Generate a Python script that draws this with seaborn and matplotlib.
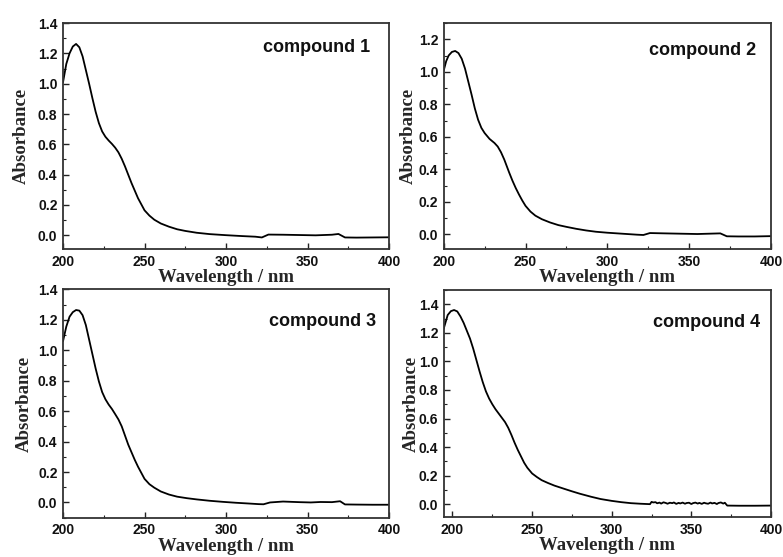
"""
UV-Vis absorption spectra of compounds 1-4 (2x2 panel figure).
"""

import matplotlib
matplotlib.use('Agg')
import matplotlib.pyplot as plt
from matplotlib.ticker import MultipleLocator, FormatStrFormatter
import seaborn as sns
import pandas as pd

# --- spectra (wavelength in nm, absorbance) ---
wl_c1 = [200, 202, 204, 206, 208, 210, 212, 214, 216, 218, 220, 222, 224, 226,
         228, 230, 232, 234, 236, 238, 240, 242, 244, 246, 248, 250, 253, 256,
         260, 265, 270, 275, 282, 290, 300, 310, 318, 322, 326, 335, 345, 355,
         365, 369, 373, 380, 390, 400]
abs_c1 = [1.01, 1.13, 1.20, 1.245, 1.262, 1.24, 1.18, 1.09, 1.00, 0.905, 0.815,
          0.74, 0.685, 0.65, 0.625, 0.603, 0.578, 0.547, 0.505, 0.455, 0.40,
          0.345, 0.295, 0.245, 0.205, 0.165, 0.13, 0.103, 0.078, 0.057, 0.040,
          0.029, 0.017, 0.008, 0.001, -0.005, -0.009, -0.014, 0.005, 0.004,
          0.002, 0.0, 0.004, 0.009, -0.014, -0.015, -0.014, -0.013]

wl_c2 = [200, 201.5, 203, 205, 207, 209, 211, 213, 215, 217, 219, 221, 223,
         225, 228, 231, 233, 235, 237, 240, 242, 244, 246, 248, 250, 253, 256,
         260, 265, 270, 275, 281, 287, 293, 300, 306, 312, 318, 322, 326, 335,
         345, 355, 362, 369, 373, 380, 390, 400]
abs_c2 = [1.008, 1.065, 1.10, 1.122, 1.128, 1.115, 1.08, 1.02, 0.94, 0.86,
          0.775, 0.705, 0.655, 0.623, 0.587, 0.562, 0.54, 0.505, 0.46, 0.38,
          0.33, 0.285, 0.245, 0.208, 0.175, 0.14, 0.115, 0.093, 0.073, 0.057,
          0.046, 0.034, 0.024, 0.016, 0.010, 0.006, 0.002, -0.002, -0.004,
          0.008, 0.006, 0.004, 0.002, 0.004, 0.006, -0.012, -0.013, -0.013,
          -0.011]

wl_c3 = [200, 202, 204, 206, 208, 210, 212, 214, 216, 218, 220, 222, 224, 226,
         228, 230, 232, 234, 236, 238, 240, 242, 244, 246, 248, 250, 253, 256,
         260, 265, 270, 276, 282, 290, 298, 306, 314, 320, 323, 327, 335, 345,
         352, 358, 365, 370, 373, 380, 390, 400]
abs_c3 = [1.06, 1.155, 1.22, 1.25, 1.264, 1.26, 1.23, 1.165, 1.07, 0.975, 0.88,
          0.795, 0.725, 0.678, 0.643, 0.614, 0.58, 0.545, 0.50, 0.44, 0.38,
          0.33, 0.28, 0.235, 0.195, 0.155, 0.12, 0.097, 0.072, 0.052, 0.038,
          0.028, 0.020, 0.011, 0.004, -0.002, -0.007, -0.011, -0.012, 0.0,
          0.006, 0.002, 0.0, 0.003, 0.002, 0.008, -0.013, -0.014, -0.015,
          -0.015]

# compound 4 starts below 200 nm and is noisy between 325 and 372 nm
wl_c4 = [194.5, 197, 199, 201, 203, 205, 207, 209, 211, 213, 215, 217, 219,
         221, 223, 225, 227, 229, 231, 233, 235, 237, 239, 241, 243, 245, 247,
         250, 253, 256, 260, 264, 270, 275, 280, 287, 293, 300, 306, 312, 318,
         324,
         325, 326, 327.5, 328.5, 330, 331, 332.5, 334, 335, 336.5, 338, 339,
         340.5, 342, 343, 344.5, 346, 347, 348.5, 350, 351, 352.5, 354, 355,
         356.5, 358, 359, 360.5, 362, 363, 364.5, 366, 367, 368.5, 370, 371,
         372.5, 380, 390, 400]
abs_c4 = [1.23, 1.325, 1.352, 1.36, 1.35, 1.315, 1.27, 1.215, 1.16, 1.09,
          1.01, 0.93, 0.855, 0.79, 0.74, 0.70, 0.665, 0.635, 0.605, 0.575,
          0.535, 0.485, 0.43, 0.38, 0.335, 0.29, 0.255, 0.215, 0.19, 0.168,
          0.148, 0.13, 0.108, 0.09, 0.073, 0.052, 0.036, 0.023, 0.014, 0.007,
          0.003, 0.0,
          0.016, 0.012, 0.014, 0.006, 0.011, 0.004, 0.013, 0.008, 0.003,
          0.010, 0.007, 0.012, 0.002, 0.009, 0.005, 0.011, 0.003, 0.008,
          0.010, 0.001, 0.007, 0.011, 0.004, 0.009, 0.002, 0.010, 0.006,
          0.003, 0.011, 0.005, 0.009, 0.001, 0.008, 0.012, 0.004, 0.010,
          -0.010, -0.011, -0.011, -0.010]

labels = ['compound 1', 'compound 2', 'compound 3', 'compound 4']
y_limits = [(-0.09, 1.40), (-0.09, 1.30), (-0.10, 1.40), (-0.09, 1.50)]
x_limits = [(200, 400), (200, 400), (200, 400), (194.5, 400)]

sns.set_theme(style='ticks')

fig = plt.figure(figsize=(7.83, 5.57), dpi=100)
axes_rects = [
    [0.0805, 0.553, 0.4163, 0.4057],
    [0.5667, 0.553, 0.4180, 0.4057],
    [0.0805, 0.0706, 0.4163, 0.4100],
    [0.5667, 0.0718, 0.4180, 0.4075],
]
ylabel_x = [-0.101, -0.082, -0.094, -0.074]
label_pos = [(0.778, 0.89), (0.792, 0.877), (0.797, 0.857), (0.803, 0.858)]

spectra = [(wl_c1, abs_c1), (wl_c2, abs_c2), (wl_c3, abs_c3), (wl_c4, abs_c4)]

tick_font = {'family': 'Liberation Sans', 'weight': 'bold', 'size': 10}
label_font = {'family': 'Liberation Serif', 'weight': 'bold', 'size': 13.5}

for i, (wl, ab) in enumerate(spectra):
    ax = fig.add_axes(axes_rects[i])
    df = pd.DataFrame({'wavelength': wl, 'absorbance': ab})
    sns.lineplot(data=df, x='wavelength', y='absorbance', ax=ax,
                 color='black', linewidth=1.3, sort=False)

    ax.set_xlim(*x_limits[i])
    ax.set_ylim(*y_limits[i])
    ax.xaxis.set_major_locator(MultipleLocator(50))
    ax.xaxis.set_minor_locator(MultipleLocator(25))
    ax.yaxis.set_major_locator(MultipleLocator(0.2))
    ax.yaxis.set_minor_locator(MultipleLocator(0.1))
    ax.yaxis.set_major_formatter(FormatStrFormatter('%.1f'))

    ax.tick_params(which='both', direction='in', top=False, right=False,
                   colors='#222222')
    ax.tick_params(which='major', length=4, width=1.0, pad=4)
    ax.tick_params(which='minor', length=2.5, width=0.8)
    for lbl in ax.get_xticklabels() + ax.get_yticklabels():
        lbl.set_fontfamily(tick_font['family'])
        lbl.set_fontweight(tick_font['weight'])
        lbl.set_fontsize(tick_font['size'])
        lbl.set_color('#111111')

    for sp in ax.spines.values():
        sp.set_color('#333333')
        sp.set_linewidth(1.3)

    ax.set_xlabel('Wavelength / nm', fontdict=label_font)
    ax.set_ylabel('Absorbance', fontdict=label_font)
    ax.xaxis.set_label_coords(0.5, -0.09)
    ax.yaxis.set_label_coords(ylabel_x[i], 0.5)

    ax.text(label_pos[i][0], label_pos[i][1], labels[i], transform=ax.transAxes,
            ha='center', va='center', fontsize=13, fontweight='bold',
            family='Liberation Sans', color='#111111')

plt.savefig('out.png', dpi=100)
plt.close()
